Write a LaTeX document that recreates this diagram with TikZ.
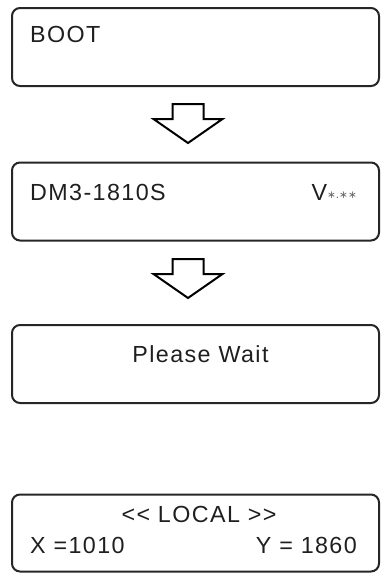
\documentclass[tikz,border=0pt]{standalone}
\usepackage{fontspec}
\setmainfont{Liberation Sans}[LetterSpace=6]
\newfontfamily\starfont{DejaVu Sans}
\usetikzlibrary{positioning, calc}

\tikzset{
  lcd/.style={draw=black!85, line width=2pt, rounded corners=8pt, minimum width=367pt, minimum height=78pt, inner sep=0pt},
  lcdtxt/.style={inner sep=0pt, font=\fontsize{23.3}{28}\selectfont, text=black!88},
  hollow/.style={draw=black, line width=2pt, line join=miter, fill=white}
}
% hollow block arrow pointing down, top centre at #1
\newcommand{\hollowdown}[1]{%
  \draw[hollow, shift={(#1)}] (-15.5,0) -- (15.5,0) -- (15.5,15) -- (34.5,15)
    -- (0,39) -- (-34.5,15) -- (-15.5,15) -- cycle;}

\begin{document}
\begin{tikzpicture}[x=1pt, y=-1pt]
  \useasboundingbox (0,0) rectangle (381,574);

  % displays
  \node[lcd] (boot)  at (195.5,47)  {};
  \node[lcd] (model) at (195.5,201.5) {};
  \node[lcd] (wait)  at (195.5,364) {};
  \node[lcd, minimum height=77pt] (local) at (195.5,533) {};

  % texts
  \node[lcdtxt, anchor=base west] (bootlbl) at (30,42) {BOOT};
  \node[lcdtxt, anchor=base west] (modellbl) at (30,200) {DM3-1810S};
  \node[lcdtxt, anchor=base east] (verlbl) at (357,200)
    {V{\starfont\addfontfeature{LetterSpace=0}\fontsize{10.5}{10}\selectfont\color{black!60}\raisebox{1.5pt}{∗.∗∗}}};
  \node[lcdtxt, anchor=base] (waitlbl) at (200.5,362) {Please Wait};
  \node[lcdtxt, anchor=base] (locallbl) at (199,522) {{<}{<} LOCAL {>}{>}};
  \node[lcdtxt, anchor=base west] (xlbl) at (30,553) {X =1010};
  \node[lcdtxt, anchor=base east] (ylbl) at (357,553) {Y = 1860};

  % arrows
  \coordinate (arr1) at ($(boot.south)+(-7.5,17)$);
  \coordinate (arr2) at ($(model.south)+(-7.5,17.5)$);
  \hollowdown{arr1}
  \hollowdown{arr2}
\end{tikzpicture}
\end{document}
